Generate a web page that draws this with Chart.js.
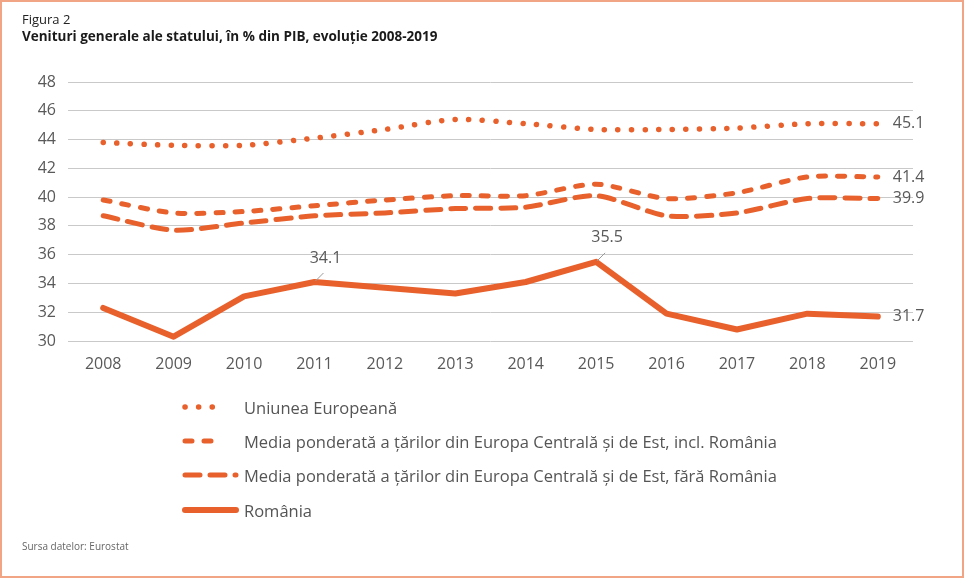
<!DOCTYPE html>
<html>
<head>
<meta charset="utf-8">
<script src="https://cdn.jsdelivr.net/npm/chart.js@4"></script>
<style>
  html, body { margin: 0; padding: 0; background: #fff; }
  #page {
    position: relative; width: 964px; height: 578px; box-sizing: border-box;
    border: 2px solid #f2a585; font-family: "Open Sans", sans-serif; overflow: hidden;
  }
  #fig { position: absolute; left: 20px; top: 8px; font-size: 13px; color: #222; }
  #title { position: absolute; left: 20px; top: 25px; font-size: 13.5px; font-weight: bold; color: #1a1a1a; }
  #source { position: absolute; left: 20px; top: 537px; font-size: 10px; color: #666; }
  #chartBox { position: absolute; left: -2px; top: -2px; width: 964px; height: 578px; }
  .leg { position: absolute; left: 179px; height: 24px; display: flex; align-items: center;
         font-size: 16.5px; color: #555; white-space: nowrap; }
  .leg svg { display: block; margin-right: 3px; }
</style>
</head>
<body>
<div id="page">
  <div id="chartBox"><canvas id="chart" width="964" height="578"></canvas></div>
  <div id="fig">Figura 2</div>
  <div id="title">Venituri generale ale statului, în % din PIB, evoluție 2008-2019</div>
  <div id="legend"></div>
  <div id="source">Sursa datelor: Eurostat</div>
</div>
<script>
const years = ['2008', '2009', '2010', '2011', '2012', '2013', '2014', '2015', '2016', '2017', '2018', '2019'];
const euValues = [43.8, 43.6, 43.6, 44.1, 44.7, 45.4, 45.1, 44.7, 44.7, 44.8, 45.1, 45.1];
const ceeInclValues = [39.8, 38.9, 39.0, 39.4, 39.8, 40.1, 40.1, 40.9, 39.9, 40.3, 41.4, 41.4];
const ceeExclValues = [38.7, 37.7, 38.2, 38.7, 38.9, 39.2, 39.3, 40.1, 38.7, 38.9, 39.9, 39.9];
const romaniaValues = [32.3, 30.3, 33.1, 34.1, 33.7, 33.3, 34.1, 35.5, 31.9, 30.8, 31.9, 31.7];
const seriesNames = [
    'Uniunea Europeană',
    'Media ponderată a țărilor din Europa Centrală și de Est, incl. România',
    'Media ponderată a țărilor din Europa Centrală și de Est, fără România',
    'România'
];
const calloutYears = ['2011', '2015'];

const orange = '#e8612c';
const textGray = '#595959';

// line width and dash per series
const styles = [
    { width: 5.5, dash: [0.1, 13.5] },
    { width: 5, dash: [7, 12] },
    { width: 5, dash: [15, 10] },
    { width: 6, dash: [] }
];

const seriesValues = [euValues, ceeInclValues, ceeExclValues, romaniaValues];

// value labels: callouts on Romania + end labels
const labelPlugin = {
    id: 'labels',
    afterDatasetsDraw(chart) {
        const ctx = chart.ctx;
        const x = chart.scales.x;
        const y = chart.scales.y;
        ctx.save();
        ctx.font = '16px "Open Sans", sans-serif';
        ctx.fillStyle = textGray;
        ctx.textBaseline = 'middle';

        // end labels
        ctx.textAlign = 'left';
        seriesValues.forEach(vals => {
            const last = vals.length - 1;
            ctx.fillText(vals[last].toFixed(1), x.getPixelForValue(last) + 15, y.getPixelForValue(vals[last]));
        });

        // callouts with leader lines
        ctx.textAlign = 'center';
        calloutYears.forEach(yr => {
            const i = years.indexOf(yr);
            const px = x.getPixelForValue(i);
            const py = y.getPixelForValue(romaniaValues[i]);
            ctx.strokeStyle = '#9a9a9a';
            ctx.lineWidth = 1;
            ctx.beginPath();
            ctx.moveTo(px + 1, py - 1);
            ctx.lineTo(px + 9, py - 9);
            ctx.stroke();
            ctx.fillText(romaniaValues[i].toFixed(1), px + 11, py - 24);
        });
        ctx.restore();
    }
};

new Chart(document.getElementById('chart'), {
    type: 'line',
    data: {
        labels: years,
        datasets: seriesValues.map((vals, i) => ({
            label: seriesNames[i],
            data: vals,
            borderColor: orange,
            borderWidth: styles[i].width,
            borderDash: styles[i].dash,
            borderCapStyle: 'round',
            borderJoinStyle: 'round',
            pointRadius: 0,
            tension: i === 3 ? 0 : 0.25,
            fill: false
        }))
    },
    options: {
        responsive: false,
        animation: false,
        layout: { padding: { left: 18, right: 51, top: 82, bottom: 207 } },
        plugins: { legend: { display: false }, tooltip: { enabled: false } },
        scales: {
            x: {
                offset: true,
                grid: { display: false },
                border: { display: false },
                ticks: { color: textGray, font: { family: 'Open Sans', size: 16 }, padding: 6, maxRotation: 0 },
                afterFit(scale) { scale.height = 30; }
            },
            y: {
                min: 30,
                max: 48,
                grid: { color: '#c9c9c9', lineWidth: 1, drawTicks: false },
                border: { display: false },
                ticks: { stepSize: 2, color: textGray, font: { family: 'Open Sans', size: 16 }, padding: 12 },
                afterFit(scale) { scale.width = 50; }
            }
        }
    },
    plugins: [labelPlugin]
});

// legend (html)
const legendTops = [393, 427, 461, 496];
const legend = document.getElementById('legend');
seriesNames.forEach((name, i) => {
    const row = document.createElement('div');
    row.className = 'leg';
    row.style.top = legendTops[i] + 'px';
    const st = styles[i];
    const dash = st.dash.length ? st.dash.join(' ') : 'none';
    row.innerHTML = '<svg width="60" height="12"><line x1="4" y1="6" x2="' + (i < 2 ? 40 : 55) + '" y2="6" stroke="' + orange +
        '" stroke-width="' + st.width + '" stroke-linecap="round" stroke-dasharray="' + dash + '"/></svg>';
    const span = document.createElement('span');
    span.textContent = name;
    row.appendChild(span);
    legend.appendChild(row);
});
</script>
</body>
</html>
